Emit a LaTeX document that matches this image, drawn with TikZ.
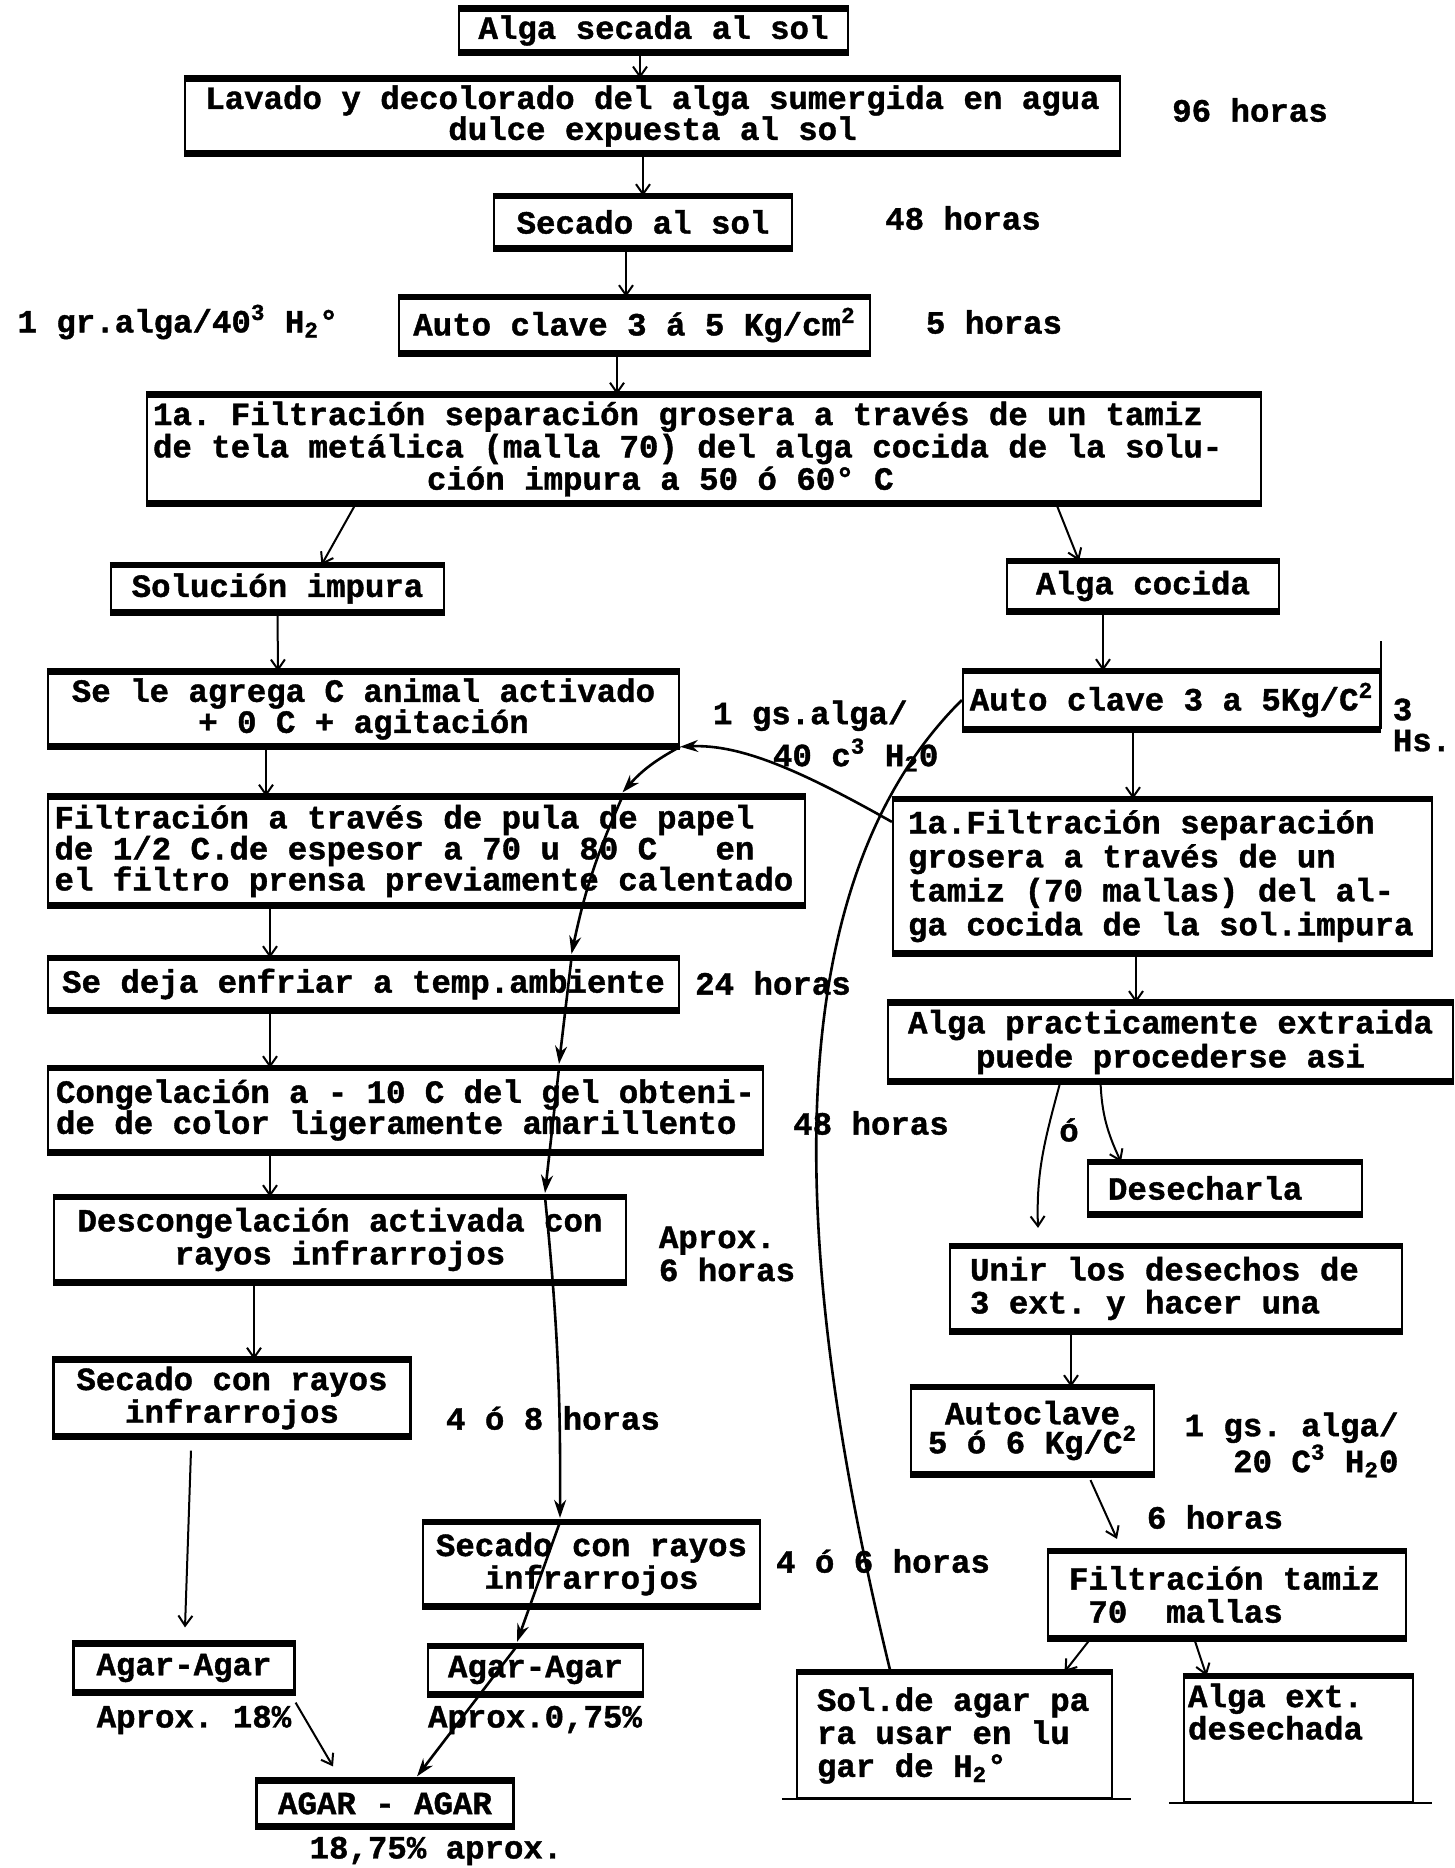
\documentclass[tikz,border=0pt]{standalone}
\usepackage{fontspec}
\usepackage{tikz}
\usetikzlibrary{arrows.meta}
\newfontfamily\maquina[BoldFeatures={FakeBold=1.2}]{Liberation Mono}
\newcommand{\letra}{\maquina\bfseries\frenchspacing\fontsize{16.2}{15.5}\selectfont}

\tikzset{
	caja/.style={draw, line width=1.1pt, inner sep=3pt, font=\letra, align=center,
		append after command={
			(\tikzlastnode.north west) edge[line width=3.4pt] (\tikzlastnode.north east)
			(\tikzlastnode.south west) edge[line width=3.4pt] (\tikzlastnode.south east)}},
	cajaab/.style={draw, line width=1.1pt, inner sep=3pt, font=\letra, align=left,
		append after command={
			(\tikzlastnode.north west) edge[line width=3.4pt] (\tikzlastnode.north east)
			([xshift=-7pt]\tikzlastnode.south west) edge[line width=1.1pt] ([xshift=9pt]\tikzlastnode.south east)}},
	nota/.style={font=\letra, inner sep=0pt, align=left},
	renglon/.style={font=\maquina\bfseries\frenchspacing\fontsize{16.2}{#1}\selectfont},
	every node/.append style={execute at begin node={\spaceskip=0pt\xspaceskip=0pt\relax}},
	flecha/.style={line width=1pt, -{Straight Barb[length=5pt,width=7pt]}},
	curva/.style={line width=1.3pt, -{Stealth[length=9pt,width=6pt]}},
	linea/.style={line width=1.3pt},
}

\begin{document}
\begin{tikzpicture}[x=0.5pt, y=-0.5pt]
	\useasboundingbox (0,0) rectangle (1455,1868);

	\node[caja, minimum width=194.5pt, minimum height=20.5pt] (alga) at (653.5,30.5) {Alga secada al sol};
	\node[caja, minimum width=467.5pt, minimum height=35pt] (lavado) at (652.5,116)
		{Lavado y decolorado del alga sumergida en agua\\dulce expuesta al sol};
	\node[nota] (t96) at (1250,110) {96 horas};
	\node[caja, minimum width=149pt, minimum height=25pt] (secsol) at (643,222) {Secado al sol};
	\node[nota] (t48a) at (963,218) {48 horas};
	\node[caja, minimum width=235.5pt, minimum height=27pt] (auto1) at (634.5,325) {Auto clave 3 á 5 Kg/cm\textsuperscript{2}};
	\node[nota] (prop1) at (178,322) {1 gr.alga/40\textsuperscript{3} H\textsubscript{2}°};
	\node[nota] (t5) at (994,322) {5 horas};
	\node[caja, renglon=14pt, align=left, text width=551pt, minimum width=557pt, minimum height=46pt] (filt1) at (704,449)
		{1a. Filtración separación grosera a través de un tamiz\\de tela metálica (malla 70) del alga cocida de la solu-\\\hspace*{137pt}ción impura a 50 ó 60° C};

	\node[caja, minimum width=166.5pt, minimum height=22.5pt] (impura) at (277.5,588.5) {Solución impura};
	\node[caja, minimum width=136pt, minimum height=24pt] (cocida) at (1143,586) {Alga cocida};

	\node[caja, minimum width=315.5pt, minimum height=36pt] (carbon) at (363.5,709)
		{Se le agrega C animal activado\\+ 0 C + agitación};
	\node[caja, align=left, text width=372pt, minimum width=378.5pt, minimum height=53.5pt] (filt2) at (426.5,851)
		{Filtración a través de pula de papel\\de 1/2 C.de espesor a 70 u 80 C~~~en\\el filtro prensa previamente calentado};
	\node[caja, minimum width=315.5pt, minimum height=25pt] (enfria) at (363.5,984) {Se deja enfriar a temp.ambiente};
	\node[nota] (t24) at (773,983) {24 horas};
	\node[caja, align=left, inner xsep=4pt, text width=349.5pt, minimum width=357.5pt, minimum height=41pt] (congel) at (405.5,1110)
		{Congelación a - 10 C del gel obteni-\\de de color ligeramente amarillento};
	\node[nota] (t48b) at (871,1123) {48 horas};
	\node[caja, renglon=16.5pt, minimum width=286pt, minimum height=41.5pt] (descon) at (340,1239.5)
		{Descongelación activada con\\rayos infrarrojos};
	\node[nota, renglon=16.5pt] (t6a) at (727,1254) {Aprox.\\6 horas};
	\node[caja, renglon=14pt, minimum width=178.5pt, minimum height=36pt] (seca1) at (232,1398) {Secado con rayos\\infrarrojos};
	\node[nota] (t48c) at (553,1418) {4 ó 8 horas};
	\node[caja, minimum width=110.5pt, minimum height=23.5pt] (agar1) at (184,1668) {Agar-Agar};
	\node[nota] (p18) at (194,1720) {Aprox. 18\%};

	\node[caja, renglon=14pt, minimum width=168.5pt, minimum height=41pt] (seca2) at (591.5,1564) {Secado con rayos\\infrarrojos};
	\node[nota] (t46) at (883,1561) {4 ó 6 horas};
	\node[caja, minimum width=107.5pt, minimum height=23pt] (agar2) at (535.5,1670) {Agar-Agar};
	\node[nota] (p075) at (535,1720) {Aprox.0,75\%};
	\node[caja, minimum width=128.5pt, minimum height=22pt] (agartot) at (385,1803.5) {AGAR - AGAR};
	\node[nota] (ptot) at (436,1851) {18,75\% aprox.};

	\node[caja, inner xsep=1pt, minimum width=208.5pt, minimum height=28pt] (auto2) at (1171.5,700) {Auto clave 3 a 5Kg/C\textsuperscript{2}};
	\node[nota] (t3) at (1422,725) {3\\Hs.};
	\node[nota, text width=117pt, renglon=21pt] (prop2) at (830,736) {1 gs.alga/\\\hspace*{30pt}40 c\textsuperscript{3} H\textsubscript{2}0};
	\node[caja, align=left, inner xsep=7.5pt, text width=254.5pt, renglon=17pt, minimum width=269.5pt, minimum height=76pt] (filt3) at (1162.5,876)
		{1a.Filtración separación\\grosera a través de un\\tamiz (70 mallas) del al-\\ga cocida de la sol.impura};
	\node[caja, renglon=17pt, minimum width=282.5pt, minimum height=37.5pt] (extra) at (1170.5,1042)
		{Alga practicamente extraida\\puede procederse asi};
	\node[nota] (o) at (1069,1130) {ó};
	\node[caja, align=left, inner xsep=10pt, text width=117pt, minimum width=137pt, minimum height=25pt] (desecha) at (1225,1188) {Desecharla};
	\node[caja, align=left, inner xsep=10pt, text width=206pt, renglon=16.5pt, minimum width=226pt, minimum height=41.5pt] (unir) at (1176,1288.5)
		{Unir los desechos de\\3 ext. y hacer una};
	\node[caja, inner xsep=2pt, renglon=14.5pt, minimum width=121.5pt, minimum height=42.5pt] (auto3) at (1032.5,1430.5)
		{Autoclave\\5 ó 6 Kg/C\textsuperscript{2}};
	\node[nota, align=right, renglon=18pt] (prop3) at (1291.5,1445) {1 gs. alga/\\20 C\textsuperscript{3} H\textsubscript{2}0};
	\node[nota] (t6b) at (1215,1517) {6 horas};
	\node[caja, align=left, inner xsep=10.5pt, text width=158pt, renglon=16.5pt, minimum width=179pt, minimum height=42.5pt] (filt4) at (1227,1594.5)
		{Filtración tamiz\\\hspace*{9.7pt}70~~mallas};
	\node[cajaab, inner xsep=10pt, text width=137.5pt, renglon=16.5pt, minimum width=157.5pt, minimum height=62.5pt] (solag) at (954.5,1735.5)
		{Sol.de agar pa\\ra usar en lu\\gar de H\textsubscript{2}°};
	\node[cajaab, inner xsep=2pt, text width=110.5pt, renglon=14pt, minimum width=114.5pt, minimum height=62.5pt] (algext) at (1298.5,1739.5)
		{Alga ext.\\desechada\\~\\~};

	\draw[line width=1.1pt] (auto2.south east) -- ([yshift=15pt]auto2.north east);

	\draw[flecha] ([xshift=-6.75pt]alga.south) -- ([xshift=-6.25pt]lavado.north);
	\draw[flecha] ([xshift=-4.75pt]lavado.south) -- (secsol.north);
	\draw[flecha] ([xshift=-8.5pt]secsol.south) -- ([xshift=-4.25pt]auto1.north);
	\draw[flecha] ([xshift=-8.75pt]auto1.south) -- ([xshift=-43.5pt]filt1.north);
	\draw[flecha] ([xshift=105pt]filt1.south west) -- ([xshift=22pt]impura.north);
	\draw[flecha] ([xshift=-103pt]filt1.south east) -- ([xshift=-32pt]cocida.north);

	\draw[flecha] (impura.south) -- ([xshift=-42.75pt]carbon.north);
	\draw[flecha] ([xshift=-48.75pt]carbon.south) -- ([xshift=-80.25pt]filt2.north);
	\draw[flecha] ([xshift=-78.25pt]filt2.south) -- ([xshift=-46.75pt]enfria.north);
	\draw[flecha] ([xshift=-46.75pt]enfria.south) -- ([xshift=-67.75pt]congel.north);
	\draw[flecha] ([xshift=-67.75pt]congel.south) -- ([xshift=-35pt]descon.north);
	\draw[flecha] ([xshift=-43pt]descon.south) -- ([xshift=11pt]seca1.north);
	\draw[flecha] ([xshift=-20.5pt,yshift=-7pt]seca1.south) -- ([xshift=0.5pt,yshift=8pt]agar1.north);
	\draw[flecha] ([yshift=-5pt]agar1.south east) -- ([xshift=-26pt,yshift=7pt]agartot.north);

	\draw[flecha] ([xshift=-20pt]cocida.south) -- ([xshift=-34.25pt]auto2.north);
	\draw[flecha] ([xshift=-19.25pt]auto2.south) -- ([xshift=-14.75pt]filt3.north);
	\draw[flecha] ([xshift=-13.25pt]filt3.south) -- ([xshift=-17.25pt]extra.north);
	\draw[flecha] ([xshift=-55pt]extra.south) to[out=-105,in=92] ([xshift=-69pt,yshift=9pt]unir.north);
	\draw[flecha] ([xshift=-35pt]extra.south) to[out=-88,in=115] ([xshift=-52pt]desecha.north);
	\draw[flecha] ([xshift=-52.5pt]unir.south) -- ([xshift=19.25pt]auto3.north);
	\draw[flecha] ([xshift=29pt,yshift=-3pt]auto3.south) -- ([xshift=-55pt,yshift=6pt]filt4.north);
	\draw[flecha] ([xshift=-68pt]filt4.south) -- ([xshift=55pt]solag.north);
	\draw[flecha] ([xshift=-16.5pt]filt4.south) -- ([xshift=-46pt]algext.north);

	\draw[curva] ([yshift=-11.5pt]filt3.north west) .. controls (800,770) and (740,744) .. (carbon.south east);
	\draw[curva] (carbon.south east) to[bend right=10] ([xshift=98pt,yshift=2pt]filt2.north);
	\draw[curva] ([xshift=98pt]filt2.north) to[bend right=6] ([xshift=104pt,yshift=2pt]enfria.north);
	\draw[curva] ([xshift=104pt]enfria.north) -- ([xshift=76.75pt,yshift=2pt]congel.north);
	\draw[curva] ([xshift=76.75pt]congel.north) -- ([xshift=102.5pt,yshift=2pt]descon.north);
	\draw[curva] ([xshift=102.5pt]descon.north) to[bend left=3] ([xshift=-15.75pt,yshift=2pt]seca2.north);
	\draw[curva] ([xshift=-15.75pt]seca2.north) -- ([xshift=-9.25pt,yshift=2pt]agar2.north);
	\draw[curva] ([xshift=-9.25pt]agar2.north) -- ([xshift=16pt,yshift=2pt]agartot.north);

	\draw[linea] ([xshift=-32pt]solag.north) .. controls (800,1300) and (760,900) .. (auto2.west);
\end{tikzpicture}
\end{document}
